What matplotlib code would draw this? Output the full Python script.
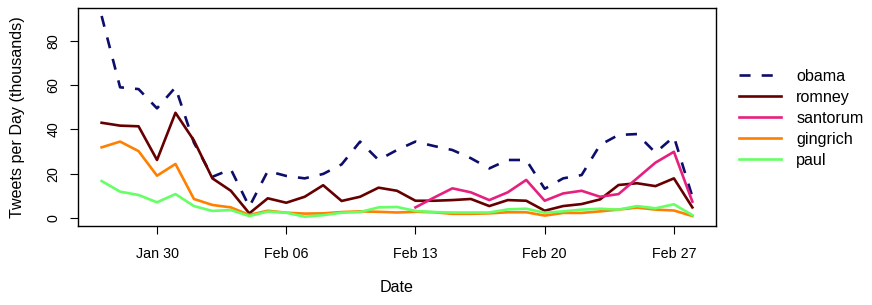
import matplotlib
matplotlib.use("Agg")
import matplotlib.pyplot as plt
import matplotlib.dates as mdates
import numpy as np
import pandas as pd

plt.rcParams['font.family'] = ['Liberation Sans', 'DejaVu Sans']

dates = pd.date_range("2012-01-27", "2012-02-28", freq="D")

obama = [91.2, 59.0, 58.2, 49.5, 59.0, 34.0, 18.6, 22.0, 5.1, 21.2, 19.0, 17.9, 19.9,
         24.2, 34.5, 26.2, 30.7, 34.5, 32.5, 30.7, 27.0, 22.4, 26.2, 26.2, 13.2, 17.9,
         19.4, 33.0, 37.5, 37.9, 29.5, 36.7, 9.6]
romney = [43.0, 41.7, 41.4, 26.2, 47.5, 35.0, 17.9, 12.3, 2.1, 8.9, 6.9, 9.6, 14.8,
          7.7, 9.6, 13.7, 12.3, 7.8, 7.8, 8.1, 8.6, 5.4, 8.1, 7.8, 3.3, 5.4,
          6.3, 8.4, 14.9, 15.7, 14.4, 17.9, 4.8]
santorum = [np.nan] * 17 + [4.8, 9.2, 13.4, 11.6, 8.1, 11.6, 17.2, 7.8, 11.1, 12.3,
                            9.6, 10.8, 17.9, 25.0, 29.9, 7.4]
gingrich = [31.9, 34.5, 30.2, 19.1, 24.4, 8.6, 5.9, 4.8, 1.4, 3.3, 2.4, 2.0, 2.1,
            2.7, 3.0, 2.8, 2.5, 2.8, 2.6, 1.9, 1.9, 2.1, 2.6, 2.6, 1.1, 2.3,
            2.3, 3.0, 3.8, 4.7, 3.8, 3.4, 0.9]
paul = [16.7, 11.9, 10.4, 7.1, 10.8, 5.4, 3.2, 3.6, 0.9, 2.9, 2.4, 0.6, 1.3,
        2.4, 2.7, 4.8, 5.0, 3.2, 2.7, 2.5, 2.5, 2.5, 3.9, 4.2, 2.4, 3.0,
        3.8, 4.2, 3.8, 5.4, 4.4, 6.2, 1.3]

series = ["obama", "romney", "santorum", "gingrich", "paul"]
values = [obama, romney, santorum, gingrich, paul]
colors = ["#0d0d6b", "#660000", "#e6207f", "#ff8000", "#66ff66"]
xticks = ["2012-01-30", "2012-02-06", "2012-02-13", "2012-02-20", "2012-02-27"]
yticks = [0, 20, 40, 60, 80]

fs_tick = 10.3
fs_lab = 11.6
fig = plt.figure(figsize=(8.72, 3.05), dpi=100)
ax = fig.add_axes([78/872, 1-226/305, (716-78)/872, (226-8)/305])

for name, v, c in zip(series, values, colors):
    if name == "obama":
        ax.plot(dates, v, color=c, lw=1.9, linestyle=(0, (4.2, 4.2)), label=name)
    else:
        ax.plot(dates, v, color=c, lw=1.9, label=name)

span = 32
ax.set_xlim(dates[0] - pd.Timedelta(days=0.04*span), dates[-1] + pd.Timedelta(days=0.04*span))
ax.set_ylim(-3.6, 94.8)

ax.set_xticks(pd.to_datetime(xticks))
ax.xaxis.set_major_formatter(mdates.DateFormatter("%b %d"))
ax.set_yticks(yticks)
ax.tick_params(axis='both', direction='out', length=5.5, width=0.8, labelsize=fs_tick)
ax.tick_params(axis='x', pad=9.5)
ax.tick_params(axis='y', pad=7)
for lab in ax.get_yticklabels():
    lab.set_rotation(90)
    lab.set_va('center')

for s in ax.spines.values():
    s.set_linewidth(1.0)

ax.set_xlabel("Date", fontsize=fs_lab)
ax.set_ylabel("Tweets per Day (thousands)", fontsize=fs_lab)
ax.xaxis.set_label_coords(0.5, (226-288)/218)
ax.xaxis.label.set_va('center')
ax.yaxis.set_label_coords((18-78)/638, 0.5)
ax.yaxis.label.set_va('center')

leg = fig.legend(loc='upper left', bbox_to_anchor=(739/872, 1-69/305), frameon=False,
                 fontsize=fs_lab, handlelength=2.6, handletextpad=0.95,
                 labelspacing=0.37, borderpad=0, borderaxespad=0)

fig.savefig("out.png", dpi=100)
